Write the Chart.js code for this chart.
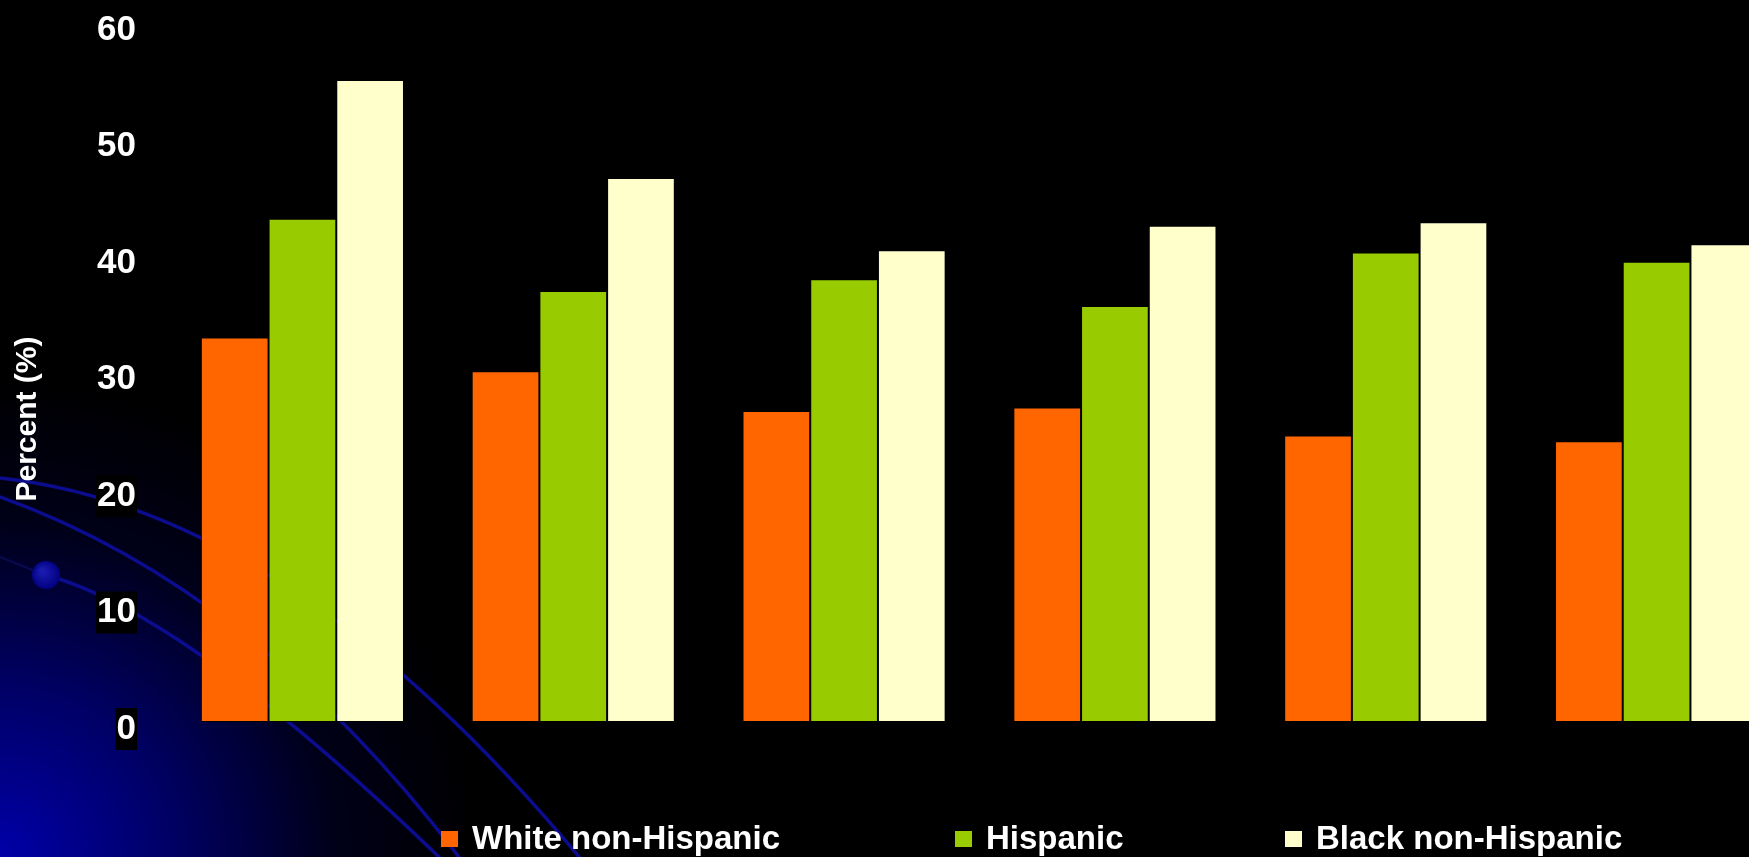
<!DOCTYPE html>
<html>
<head>
<meta charset="utf-8">
<script src="https://cdn.jsdelivr.net/npm/chart.js@4.4.1/dist/chart.umd.min.js"></script>
<style>
  html, body { margin: 0; padding: 0; background: #000; overflow: hidden; }
  #wrap { position: relative; width: 1800px; height: 857px; }
</style>
</head>
<body>
<div id="wrap"><canvas id="chart" width="1800" height="857"></canvas></div>
<script>
(function () {
  'use strict';

  // --- Data (category labels are cut off in the source slide) ---

  var categories = ['1', '2', '3', '4', '5', '6'];
  var seriesNames = ['White non-Hispanic', 'Hispanic', 'Black non-Hispanic'];
  var whiteNonHispanic = [33.0, 30.1, 26.7, 27.0, 24.6, 24.1];
  var hispanic = [43.2, 37.0, 38.0, 35.7, 40.3, 39.5];
  var blackNonHispanic = [55.1, 46.7, 40.5, 42.6, 42.9, 41.0];
  var yTicks = [0, 10, 20, 30, 40, 50, 60];
  var yTitle = 'Percent (%)';

  var seriesColors = ['#ff6600', '#99cc00', '#ffffcc'];
  var FONT = "'Liberation Sans', Arial, Helvetica, sans-serif";

  // --- Slide background: blue glow in the corner, orbit lines, dot ---

  var slideBackground = {
    id: 'slideBackground',
    beforeDraw: function (chart) {
      var ctx = chart.ctx;
      var h = chart.height;
      ctx.save();
      ctx.fillStyle = '#000';
      ctx.fillRect(0, 0, chart.width, h);

      var g = ctx.createRadialGradient(0, h, 0, 0, h, 480);
      g.addColorStop(0, '#0000a8');
      g.addColorStop(0.35, '#000066');
      g.addColorStop(0.7, '#000018');
      g.addColorStop(1, '#000000');
      ctx.fillStyle = g;
      ctx.fillRect(0, 0, 600, h);

      ctx.strokeStyle = '#0c0c8e';
      ctx.lineWidth = 3.5;
      ctx.lineCap = 'round';
      var orbits = [
        [0, 478, 295, 510, 590, 870],
        [0, 497, 257, 589, 465, 865],
        [46, 575, 187, 614, 439, 857]
      ];
      orbits.forEach(function (o) {
        ctx.beginPath();
        ctx.moveTo(o[0], o[1]);
        ctx.quadraticCurveTo(o[2], o[3], o[4], o[5]);
        ctx.stroke();
      });
      ctx.strokeStyle = 'rgba(20,20,120,0.5)';
      ctx.lineWidth = 2;
      ctx.beginPath();
      ctx.moveTo(0, 557);
      ctx.lineTo(40, 573);
      ctx.stroke();

      var dg = ctx.createRadialGradient(42, 571, 2, 46, 575, 15);
      dg.addColorStop(0, '#1a1ab0');
      dg.addColorStop(1, '#00007e');
      ctx.fillStyle = dg;
      ctx.beginPath();
      ctx.arc(46, 575, 14, 0, Math.PI * 2);
      ctx.fill();
      ctx.restore();
    }
  };

  // --- Axis title and legend, laid out like the slide ---

  var slideText = {
    id: 'slideText',
    afterDraw: function (chart) {
      var ctx = chart.ctx;
      ctx.save();
      ctx.fillStyle = '#fff';
      ctx.font = 'bold 30px ' + FONT;
      ctx.textAlign = 'center';
      ctx.textBaseline = 'alphabetic';
      ctx.translate(36, 419);
      ctx.rotate(-Math.PI / 2);
      ctx.fillText(yTitle, 0, 0);
      ctx.restore();

      var boxX = [441, 955, 1285];
      ctx.save();
      ctx.font = 'bold 33px ' + FONT;
      ctx.textBaseline = 'alphabetic';
      ctx.textAlign = 'left';
      chart.data.datasets.forEach(function (ds, i) {
        ctx.fillStyle = ds.backgroundColor;
        ctx.fillRect(boxX[i], 831, 17, 16);
        ctx.fillStyle = '#fff';
        ctx.fillText(ds.label, boxX[i] + 31, 849);
      });
      ctx.restore();
    }
  };

  var seriesData = [whiteNonHispanic, hispanic, blackNonHispanic];

  new Chart(document.getElementById('chart'), {
    type: 'bar',
    data: {
      labels: categories,
      datasets: seriesData.map(function (values, i) {
        return {
          label: seriesNames[i],
          data: values,
          backgroundColor: seriesColors[i],
          borderColor: 'rgba(0,0,0,0.85)',
          borderWidth: 1,
          borderSkipped: false,
          barPercentage: 1,
          categoryPercentage: 0.75
        };
      })
    },
    options: {
      responsive: false,
      animation: false,
      layout: { autoPadding: false, padding: { top: 23, right: 8, bottom: 135, left: 0 } },
      plugins: {
        legend: { display: false },
        tooltip: { enabled: false }
      },
      scales: {
        x: { display: false },
        y: {
          min: yTicks[0],
          max: yTicks[yTicks.length - 1],
          afterFit: function (scale) {
            scale.width = 167;
            scale.paddingTop = 0;
            scale.paddingBottom = 0;
          },
          afterBuildTicks: function (scale) {
            scale.ticks = yTicks.map(function (v) { return { value: v }; });
          },
          grid: { display: false, drawTicks: false },
          border: { display: false },
          ticks: {
            color: '#fff',
            padding: 31,
            labelOffset: 7,
            font: { family: FONT, size: 35, weight: 'bold' },
            showLabelBackdrop: true,
            backdropColor: '#000',
            backdropPadding: { x: 1, y: 0 }
          }
        }
      }
    },
    plugins: [slideBackground, slideText]
  });
})();
</script>
</body>
</html>
